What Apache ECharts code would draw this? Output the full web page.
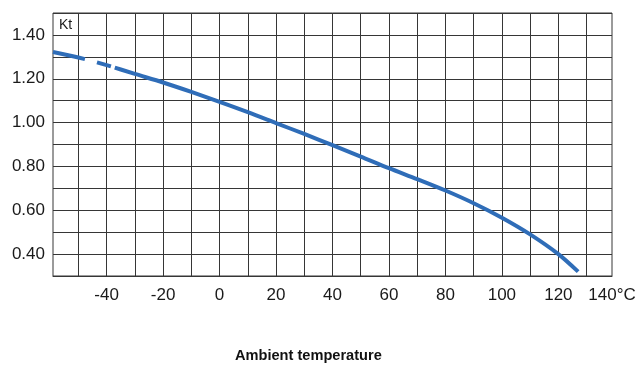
<!DOCTYPE html>
<html>
<head>
<meta charset="utf-8">
<script src="https://cdn.jsdelivr.net/npm/echarts@6/dist/echarts.min.js"></script>
<style>
html,body{margin:0;padding:0;background:#fff;}
#chart{width:643px;height:365px;}
</style>
</head>
<body>
<div id="chart"></div>
<script>
// Temperature (°C) and derating factor Kt
const temperatures = [-59, -50, -40, -30, -20, -10, 0, 10, 20, 30, 40, 50, 60, 70, 80, 90, 100, 110, 120, 127];
const ktValues = [1.322, 1.297, 1.262, 1.222, 1.183, 1.140, 1.095, 1.048, 0.998, 0.948, 0.897, 0.845, 0.792, 0.742, 0.690, 0.632, 0.566, 0.490, 0.400, 0.320];

// Axis ranges and tick labels
const xMin = -59, xMax = 139;
const xGridValues = [-50, -40, -30, -20, -10, 0, 10, 20, 30, 40, 50, 60, 70, 80, 90, 100, 110, 120, 130];
const xLabelValues = [-40, -20, 0, 20, 40, 60, 80, 100, 120, 139];
const xLabelTexts = ['-40', '-20', '0', '20', '40', '60', '80', '100', '120', '140°C'];
const yMin = 0.3, yMax = 1.5, yInterval = 0.1;
const yLabelValues = [0.4, 0.6, 0.8, 1.0, 1.2, 1.4];
const yAxisName = 'Kt';
const xAxisTitle = 'Ambient temperature';

const chart = echarts.init(document.getElementById('chart'), null, {renderer: 'canvas'});
const gridColor = '#363636';
const labelFont = {fontFamily: 'Liberation Sans, Arial, sans-serif', fontSize: 17, color: '#1a1a1a'};

chart.setOption({
  animation: false,
  backgroundColor: '#fff',
  title: [
    {text: yAxisName, left: 59, top: 18, padding: 0,
     textStyle: {fontFamily: 'Liberation Sans, Arial, sans-serif', fontSize: 14, fontWeight: 'normal', color: '#1a1a1a'}},
    {text: xAxisTitle, left: 235, top: 348, padding: 0,
     textStyle: {fontFamily: 'Liberation Sans, Arial, sans-serif', fontSize: 14.6, fontWeight: 'bold', color: '#111'}}
  ],
  grid: {left: 53, top: 13, right: 31, bottom: 89, show: true, borderColor: gridColor, borderWidth: 1, backgroundColor: 'transparent'},
  xAxis: {
    type: 'value', min: xMin, max: xMax,
    axisLine: {show: true, lineStyle: {color: gridColor, width: 1}},
    axisTick: {show: false, customValues: xGridValues},
    splitLine: {show: true, lineStyle: {color: gridColor, width: 1}},
    axisLabel: Object.assign({
      margin: 11,
      customValues: xLabelValues,
      formatter: v => xLabelTexts[xLabelValues.indexOf(v)] ?? ''
    }, labelFont)
  },
  yAxis: {
    type: 'value', min: yMin, max: yMax, interval: yInterval,
    axisLine: {show: true, lineStyle: {color: gridColor, width: 1}},
    axisTick: {show: false},
    splitLine: {show: true, lineStyle: {color: gridColor, width: 1}},
    axisLabel: Object.assign({
      margin: 8,
      customValues: yLabelValues,
      formatter: v => v.toFixed(2)
    }, labelFont)
  },
  series: [{
    type: 'line',
    data: temperatures.map((t, i) => [t, ktValues[i]]),
    smooth: 0.3,
    showSymbol: false,
    clip: false,
    lineStyle: {color: '#2f6db8', width: 4, type: [33, 12, 15, 4, 3000, 0], cap: 'butt'}
  }]
});
</script>
</body>
</html>
